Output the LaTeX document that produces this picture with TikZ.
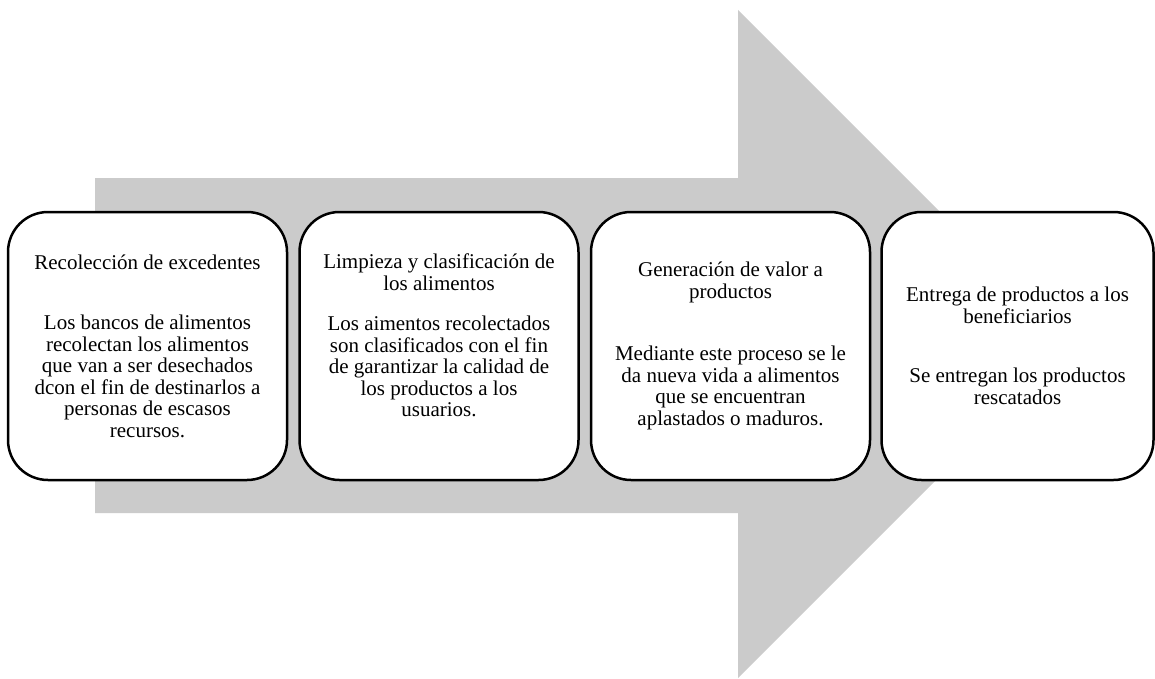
\documentclass[tikz,border=0pt]{standalone}
\usepackage{fontspec}
\setmainfont{Liberation Serif}
\usepackage{tikz}
\usetikzlibrary{positioning}
\definecolor{flowgray}{RGB}{203,203,203}
\tikzstyle{stage} = [draw=black,line width=2.5pt,fill=white,rounded corners=40pt,minimum width=279pt,minimum height=268pt,align=center,font=\fontsize{21}{21.5}\selectfont]

\begin{document}
\begin{tikzpicture}[x=1pt,y=-1pt,node distance=291.5pt,on grid]
   	\useasboundingbox (0,0) rectangle (1155,679);
   	\fill[flowgray] (95,178) -- (738,178) -- (738,10) -- (1072,344) -- (738,678) -- (738,513) -- (95,513) -- cycle;
   	\node[stage](s_recoleccion) at (147.5,346) {Recolección de excedentes\\[39pt]Los bancos de alimentos\\recolectan los alimentos\\que van a ser desechados\\dcon el fin de destinarlos a\\personas de escasos\\recursos.};
   	\node[stage](s_limpieza)[right=of s_recoleccion] {Limpieza y clasificación de\\los alimentos\\[19pt]Los aimentos recolectados\\son clasificados con el fin\\de garantizar la calidad de\\los productos a los\\usuarios.\\\mbox{}};
   	\node[stage](s_valor)[right=of s_limpieza] {Generación de valor a\\productos\\[41pt]Mediante este proceso se le\\da nueva vida a alimentos\\que se encuentran\\aplastados o maduros.};
   	\node[stage,minimum width=272pt](s_entrega)[right=287pt of s_valor] {Entrega de productos a los\\beneficiarios\\[38pt]Se entregan los productos\\rescatados};
\end{tikzpicture}
\end{document}
